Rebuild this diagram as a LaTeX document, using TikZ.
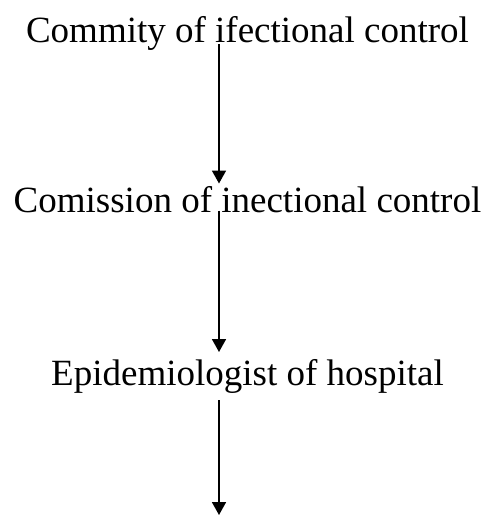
\documentclass[tikz,border=0pt]{standalone}
\usepackage{fontspec}
\setmainfont{Liberation Serif}
\usetikzlibrary{arrows.meta}
\begin{document}
\begin{tikzpicture}[x=1pt,y=-1pt,
  lbl/.style={anchor=base,inner sep=0pt,font=\fontsize{37}{42}\selectfont},
  arr/.style={line width=1.8pt,-{Triangle[width=14pt,length=13pt]}}]
\useasboundingbox (0,0) rectangle (486,515);
\coordinate (ax) at (219,0);
\node[lbl] (t1) at (247.5,42) {Commity of ifectional control};
\node[lbl] (t2) at (247.5,212.5) {Comission of inectional control};
\node[lbl] (t3) at (247.5,385) {Epidemiologist of hospital};
\coordinate (e3) at (219,515);
\draw[arr] ([yshift=-2pt]t1.base -| ax) -- ([yshift=29pt]t2.base -| ax);
\draw[arr] ([yshift=2pt]t2.base -| ax) -- ([yshift=33pt]t3.base -| ax);
\draw[arr] ([yshift=-15pt]t3.base -| ax) -- (e3);
\end{tikzpicture}
\end{document}
